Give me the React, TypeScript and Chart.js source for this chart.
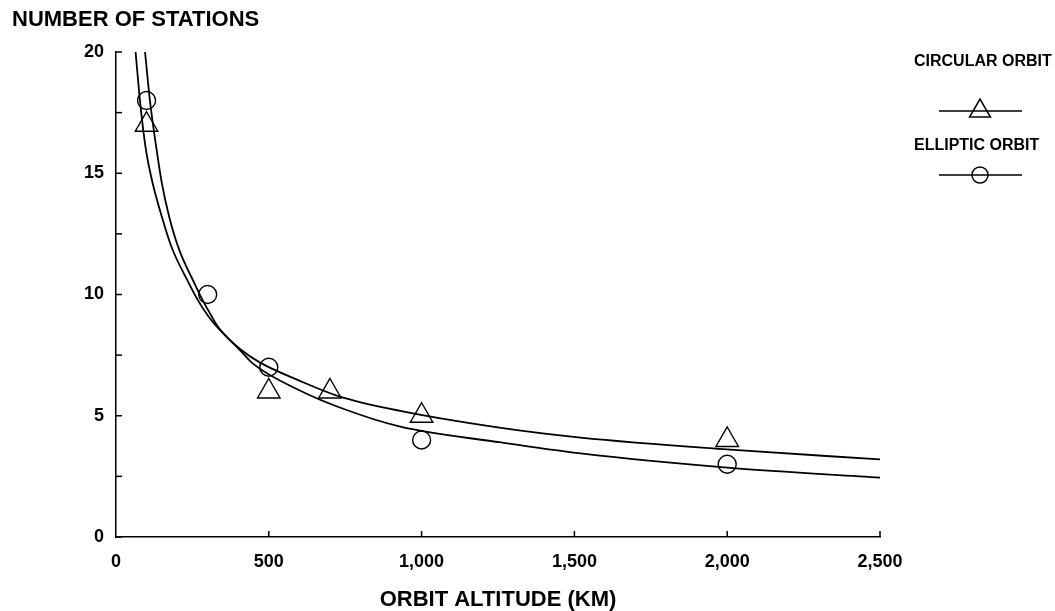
import React, { useEffect, useRef } from "react";
import { Chart, registerables } from "chart.js";

Chart.register(...registerables);

// ---- data ----
const xTitle = "ORBIT ALTITUDE (KM)";
const yTitle = "NUMBER OF STATIONS";
const circularLabel = "CIRCULAR ORBIT";
const ellipticLabel = "ELLIPTIC ORBIT";

const circularAltitudes = [100, 500, 700, 1000, 2000];
const circularStations = [17, 6, 6, 5, 4];
const ellipticAltitudes = [100, 300, 500, 1000, 2000];
const ellipticStations = [18, 10, 7, 4, 3];

const circularCurveX = [64, 80, 98, 120, 150, 182, 237, 264, 302, 335, 406, 470, 600, 730, 930, 1260, 1520, 2010, 2500];
const circularCurveY = [20, 17.8, 15.96, 14.59, 13.21, 11.95, 10.5, 9.85, 9.1, 8.6, 7.75, 7.2, 6.45, 5.8, 5.2, 4.5, 4.1, 3.6, 3.2];
const ellipticCurveX = [95, 111, 133, 150, 174, 207, 259, 280, 313, 335, 406, 448, 600, 730, 930, 1260, 1520, 2010, 2500];
const ellipticCurveY = [20, 18, 15.96, 14.59, 13.21, 11.84, 10.4, 9.85, 9.1, 8.65, 7.7, 7.15, 6.05, 5.35, 4.55, 3.9, 3.45, 2.85, 2.45];

const xMin = 0, xMax = 2500, xStep = 500;
const yMin = 0, yMax = 20, yStep = 2.5, yLabelEvery = 5;

const FONT = '"Liberation Sans", Arial, sans-serif';

const zip = (xs: number[], ys: number[]) => xs.map((x, i) => ({ x, y: ys[i] }));

const decorPlugin = {
  id: "decor",
  afterDraw(chart: any) {
    const { ctx, chartArea, scales } = chart;
    ctx.save();
    ctx.strokeStyle = "#000";
    ctx.fillStyle = "#000";
    ctx.lineWidth = 1.5;
    // inner tick marks
    for (const t of scales.y.ticks) {
      const y = scales.y.getPixelForValue(t.value);
      ctx.beginPath();
      ctx.moveTo(chartArea.left, y);
      ctx.lineTo(chartArea.left + 6, y);
      ctx.stroke();
    }
    for (const t of scales.x.ticks) {
      if (t.value === xMin) continue;
      const x = scales.x.getPixelForValue(t.value);
      ctx.beginPath();
      ctx.moveTo(x, chartArea.bottom);
      ctx.lineTo(x, chartArea.bottom - 6);
      ctx.stroke();
    }
    // y title
    ctx.font = `bold 22px ${FONT}`;
    ctx.textAlign = "left";
    ctx.textBaseline = "middle";
    ctx.fillText(yTitle, 12, 20);

    // legend
    const lx0 = 939, lx1 = 1022, lcx = 980;
    ctx.font = `bold 16px ${FONT}`;
    ctx.fillText(circularLabel, 914, 62);
    ctx.fillText(ellipticLabel, 914, 146);
    ctx.lineWidth = 1.5;
    ctx.beginPath();
    ctx.moveTo(lx0, 111); ctx.lineTo(lx1, 111);
    ctx.moveTo(lx0, 175); ctx.lineTo(lx1, 175);
    ctx.stroke();
    const r = 12;
    const cy = 111;
    ctx.beginPath();
    ctx.moveTo(lcx, cy - r);
    ctx.lineTo(lcx + r * Math.sin((2 * Math.PI) / 3), cy - r * Math.cos((2 * Math.PI) / 3));
    ctx.lineTo(lcx + r * Math.sin((4 * Math.PI) / 3), cy - r * Math.cos((4 * Math.PI) / 3));
    ctx.closePath();
    ctx.stroke();
    ctx.beginPath();
    ctx.arc(lcx, 175, 8, 0, Math.PI * 2);
    ctx.stroke();
    ctx.restore();
  },
};

export default function App() {
  const ref = useRef<HTMLCanvasElement>(null);
  useEffect(() => {
    if (!ref.current) return;
    const chart = new Chart(ref.current, {
      type: "scatter",
      data: {
        datasets: [
          {
            label: circularLabel + " fit",
            data: zip(circularCurveX, circularCurveY),
            showLine: true,
            borderColor: "#000",
            borderWidth: 1.8,
            pointRadius: 0,
            cubicInterpolationMode: "monotone",
          },
          {
            label: ellipticLabel + " fit",
            data: zip(ellipticCurveX, ellipticCurveY),
            showLine: true,
            borderColor: "#000",
            borderWidth: 1.8,
            pointRadius: 0,
            cubicInterpolationMode: "monotone",
          },
          {
            label: circularLabel,
            data: zip(circularAltitudes, circularStations),
            showLine: false,
            pointStyle: "triangle",
            pointRadius: 13,
            pointBorderWidth: 1.4,
            pointBorderColor: "#000",
            pointBackgroundColor: "rgba(0,0,0,0)",
          },
          {
            label: ellipticLabel,
            data: zip(ellipticAltitudes, ellipticStations),
            showLine: false,
            pointStyle: "circle",
            pointRadius: 9,
            pointBorderWidth: 1.4,
            pointBorderColor: "#000",
            pointBackgroundColor: "rgba(0,0,0,0)",
          },
        ],
      },
      options: {
        responsive: false,
        animation: false,
        layout: { padding: { top: 52, right: 175, left: 0, bottom: 0 } },
        plugins: { legend: { display: false }, tooltip: { enabled: false } },
        scales: {
          x: {
            type: "linear",
            min: xMin,
            max: xMax,
            grid: { display: false, drawTicks: false },
            border: { display: true, color: "#000", width: 1.5 },
            ticks: {
              stepSize: xStep,
              autoSkip: false,
              maxRotation: 0,
              color: "#000",
              padding: 14,
              font: { family: FONT, size: 18, weight: "bold" },
              callback: (v: any) => Number(v).toLocaleString("en-US"),
            },
            title: {
              display: true,
              text: xTitle,
              color: "#000",
              font: { family: FONT, size: 22, weight: "bold", lineHeight: 1 },
              padding: { top: 0, bottom: 0 },
            },
            afterFit: (s: any) => { s.height = 74; },
          },
          y: {
            type: "linear",
            min: yMin,
            max: yMax,
            grid: { display: false, drawTicks: false },
            border: { display: true, color: "#000", width: 1.5 },
            ticks: {
              stepSize: yStep,
              autoSkip: false,
              color: "#000",
              padding: 12,
              font: { family: FONT, size: 18, weight: "bold" },
              callback: (v: any) => (Number(v) % yLabelEvery === 0 ? String(v) : ""),
            },
            afterFit: (s: any) => { s.width = 116; },
          },
        },
      },
      plugins: [decorPlugin],
    } as any);
    return () => chart.destroy();
  }, []);
  return (
    <div style={{ position: "fixed", left: 0, top: 0, width: 1055, height: 611, background: "#fff" }}>
      <canvas ref={ref} width={1055} height={611} style={{ display: "block" }} />
    </div>
  );
}
